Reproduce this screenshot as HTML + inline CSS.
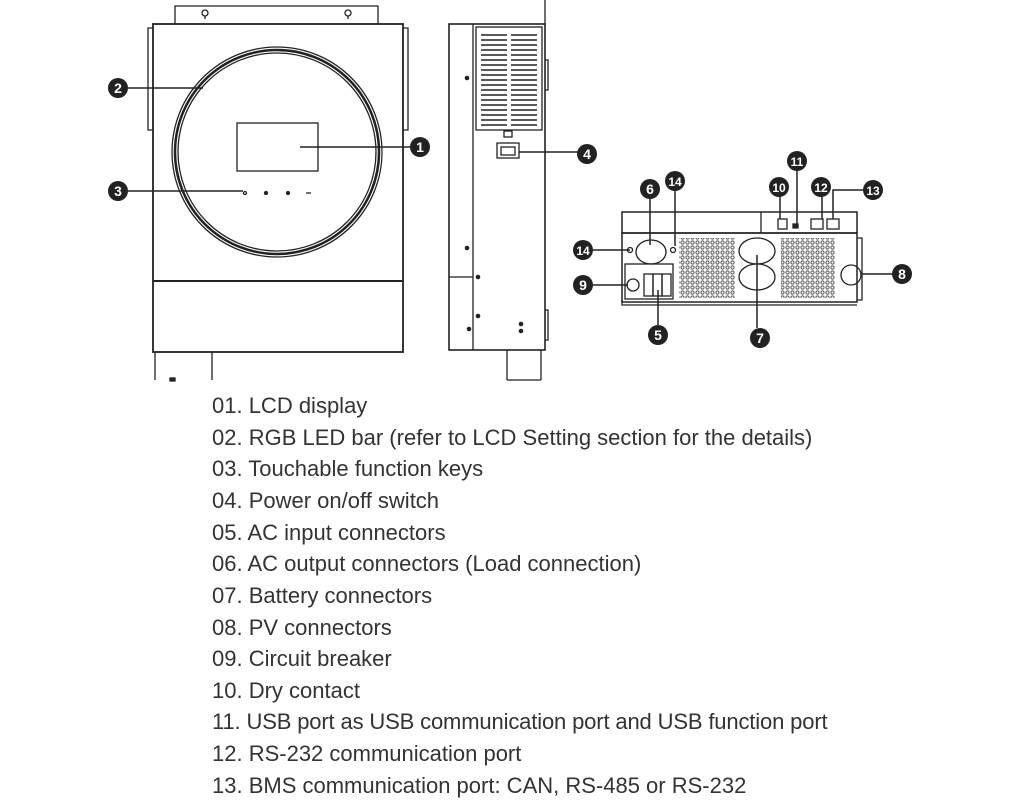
<!DOCTYPE html>
<html><head><meta charset="utf-8"><style>
body{margin:0;background:#fff;width:1024px;height:800px;overflow:hidden;position:relative;font-family:"Liberation Sans",sans-serif}
svg{position:absolute;left:0;top:0}
.l{position:absolute;left:212px;font-size:22px;color:#333;white-space:nowrap}
</style></head><body>
<svg width="1024" height="800" viewBox="0 0 1024 800" fill="none" stroke="#222" stroke-width="1.3">
<defs><pattern id="hx" width="5" height="5" patternUnits="userSpaceOnUse"><circle cx="2.5" cy="2.5" r="1.6" fill="#fff" stroke="#555" stroke-width="1"/></pattern></defs>
<path d="M175 24 V6 H378 V24"/>
<circle cx="205" cy="13" r="3"/><circle cx="348" cy="13" r="3"/><path d="M205 16 V19 M348 16 V19"/>
<rect x="153" y="24" width="250" height="328" stroke-width="1.8"/>
<path d="M153 28 H148 V130 H153 M403 28 H408 V130 H403"/>
<line x1="153" y1="281" x2="403" y2="281" stroke-width="2"/>
<circle cx="277" cy="152" r="105"/><circle cx="277" cy="152" r="102" stroke-width="2.5"/><circle cx="277" cy="152" r="99"/>
<rect x="237" y="123" width="81" height="48"/>
<circle cx="245" cy="193" r="1.5"/><circle cx="266" cy="193" r="1.5" fill="#222"/><circle cx="288" cy="193" r="1.5" fill="#222"/><line x1="306" y1="193" x2="311" y2="193"/>
<path d="M155 352 V380 M212 352 V380"/><rect x="170" y="378" width="5" height="3" fill="#222"/>
<line x1="300" y1="147" x2="410" y2="147" stroke-width="1.5"/>
<line x1="128" y1="88" x2="203" y2="88" stroke-width="1.5"/>
<line x1="128" y1="191" x2="243" y2="191" stroke-width="1.5"/>
<rect x="449" y="24" width="96" height="326" stroke-width="1.6"/>
<line x1="473" y1="24" x2="473" y2="350"/><line x1="545" y1="0" x2="545" y2="24"/>
<line x1="449" y1="277" x2="473" y2="277"/>
<rect x="476" y="27" width="66" height="103"/>
<g stroke-width="1.6">
<path d="M481 35H507M511 35H537M481 40H507M511 40H537M481 45H507M511 45H537M481 50H507M511 50H537M481 55H507M511 55H537M481 60H507M511 60H537M481 65H507M511 65H537M481 70H507M511 70H537M481 75H507M511 75H537M481 80H507M511 80H537M481 85H507M511 85H537M481 90H507M511 90H537M481 95H507M511 95H537M481 100H507M511 100H537M481 105H507M511 105H537M481 110H507M511 110H537M481 115H507M511 115H537M481 120H507M511 120H537M481 125H507M511 125H537"/>
</g>
<rect x="504" y="131" width="8" height="6"/>
<rect x="497" y="143" width="22" height="15"/><rect x="501" y="147" width="14" height="8"/>
<line x1="519" y1="152" x2="578" y2="152" stroke-width="1.5"/>
<g fill="#222" stroke="none"><circle cx="467" cy="78" r="2.3"/><circle cx="467" cy="248" r="2.3"/><circle cx="478" cy="277" r="2.3"/><circle cx="478" cy="316" r="2.3"/><circle cx="469" cy="329" r="2.3"/><circle cx="521" cy="324" r="2.3"/><circle cx="521" cy="331" r="2.3"/></g>
<path d="M545 60 H548 V90 H545 M545 310 H548 V340 H545"/>
<path d="M507 350 V380 M541 350 V380 M507 380 H541"/>
<rect x="622" y="212" width="235" height="21" stroke-width="1.5"/>
<line x1="761" y1="212" x2="761" y2="233"/>
<rect x="622" y="233" width="235" height="69" stroke-width="1.5"/>
<path d="M857 238 H862 V300 H857 M622 300 V305 H857"/>
<rect x="778" y="219" width="9" height="10"/><rect x="793" y="224" width="5" height="4" fill="#222"/>
<rect x="811" y="219" width="12" height="10"/><rect x="827" y="219" width="12" height="10"/>
<rect x="679" y="238" width="56" height="60" fill="url(#hx)" stroke="none"/>
<rect x="781" y="238" width="54" height="60" fill="url(#hx)" stroke="none"/>
<ellipse cx="757" cy="251" rx="18" ry="13" fill="#fff"/><ellipse cx="757" cy="277" rx="18" ry="13" fill="#fff"/>
<ellipse cx="651" cy="252" rx="15" ry="12"/><circle cx="851" cy="275" r="10"/>
<rect x="625" y="264" width="48" height="35"/>
<circle cx="633" cy="285" r="6"/>
<rect x="644" y="274" width="9" height="22"/><rect x="653" y="274" width="9" height="22"/><rect x="662" y="274" width="9" height="22"/>
<circle cx="630" cy="250" r="2.5"/><circle cx="673" cy="250" r="2.5"/>
<g stroke-width="1.5">
<path d="M593 250 H630 M593 285 H628 M658 325 V290 M757 328 V255 M892 274 H861 M650 199 V245 M675 190 V246 M780 196 V219 M797 170 V224 M822 196 V219 M863 190 H833 V219"/>
</g>
<g font-family="Liberation Sans,sans-serif" font-weight="bold" font-size="14" text-anchor="middle">
<g fill="#222" stroke="none">
<circle cx="420" cy="147" r="10"/><circle cx="118" cy="88" r="10"/><circle cx="118" cy="191" r="10"/><circle cx="587" cy="154" r="10"/>
<circle cx="650" cy="189" r="10"/><circle cx="675" cy="181" r="10"/><circle cx="779" cy="187" r="10"/><circle cx="797" cy="161" r="10"/><circle cx="821" cy="187" r="10"/><circle cx="873" cy="190" r="10"/>
<circle cx="583" cy="250" r="10"/><circle cx="583" cy="285" r="10"/><circle cx="658" cy="335" r="10"/><circle cx="760" cy="338" r="10"/><circle cx="902" cy="274" r="10"/>
</g>
<g fill="#fff" stroke="none">
<text x="420" y="152">1</text><text x="118" y="93">2</text><text x="118" y="196">3</text><text x="587" y="159">4</text>
<text x="650" y="194">6</text><text x="675" y="186" font-size="12">14</text><text x="779" y="192" font-size="12">10</text><text x="797" y="166" font-size="12">11</text><text x="821" y="192" font-size="12">12</text><text x="873" y="195" font-size="12">13</text>
<text x="583" y="255" font-size="12">14</text><text x="583" y="290">9</text><text x="658" y="340">5</text><text x="760" y="343">7</text><text x="902" y="279">8</text>
</g></g>
</svg>
<div class="l" style="top:393px">01. LCD display</div>
<div class="l" style="top:425px">02. RGB LED bar (refer to LCD Setting section for the details)</div>
<div class="l" style="top:456px">03. Touchable function keys</div>
<div class="l" style="top:488px">04. Power on/off switch</div>
<div class="l" style="top:520px">05. AC input connectors</div>
<div class="l" style="top:551px">06. AC output connectors (Load connection)</div>
<div class="l" style="top:583px">07. Battery connectors</div>
<div class="l" style="top:615px">08. PV connectors</div>
<div class="l" style="top:646px">09. Circuit breaker</div>
<div class="l" style="top:678px">10. Dry contact</div>
<div class="l" style="top:709px;letter-spacing:-0.15px">11. USB port as USB communication port and USB function port</div>
<div class="l" style="top:741px">12. RS-232 communication port</div>
<div class="l" style="top:773px">13. BMS communication port: CAN, RS-485 or RS-232</div>
</body></html>
